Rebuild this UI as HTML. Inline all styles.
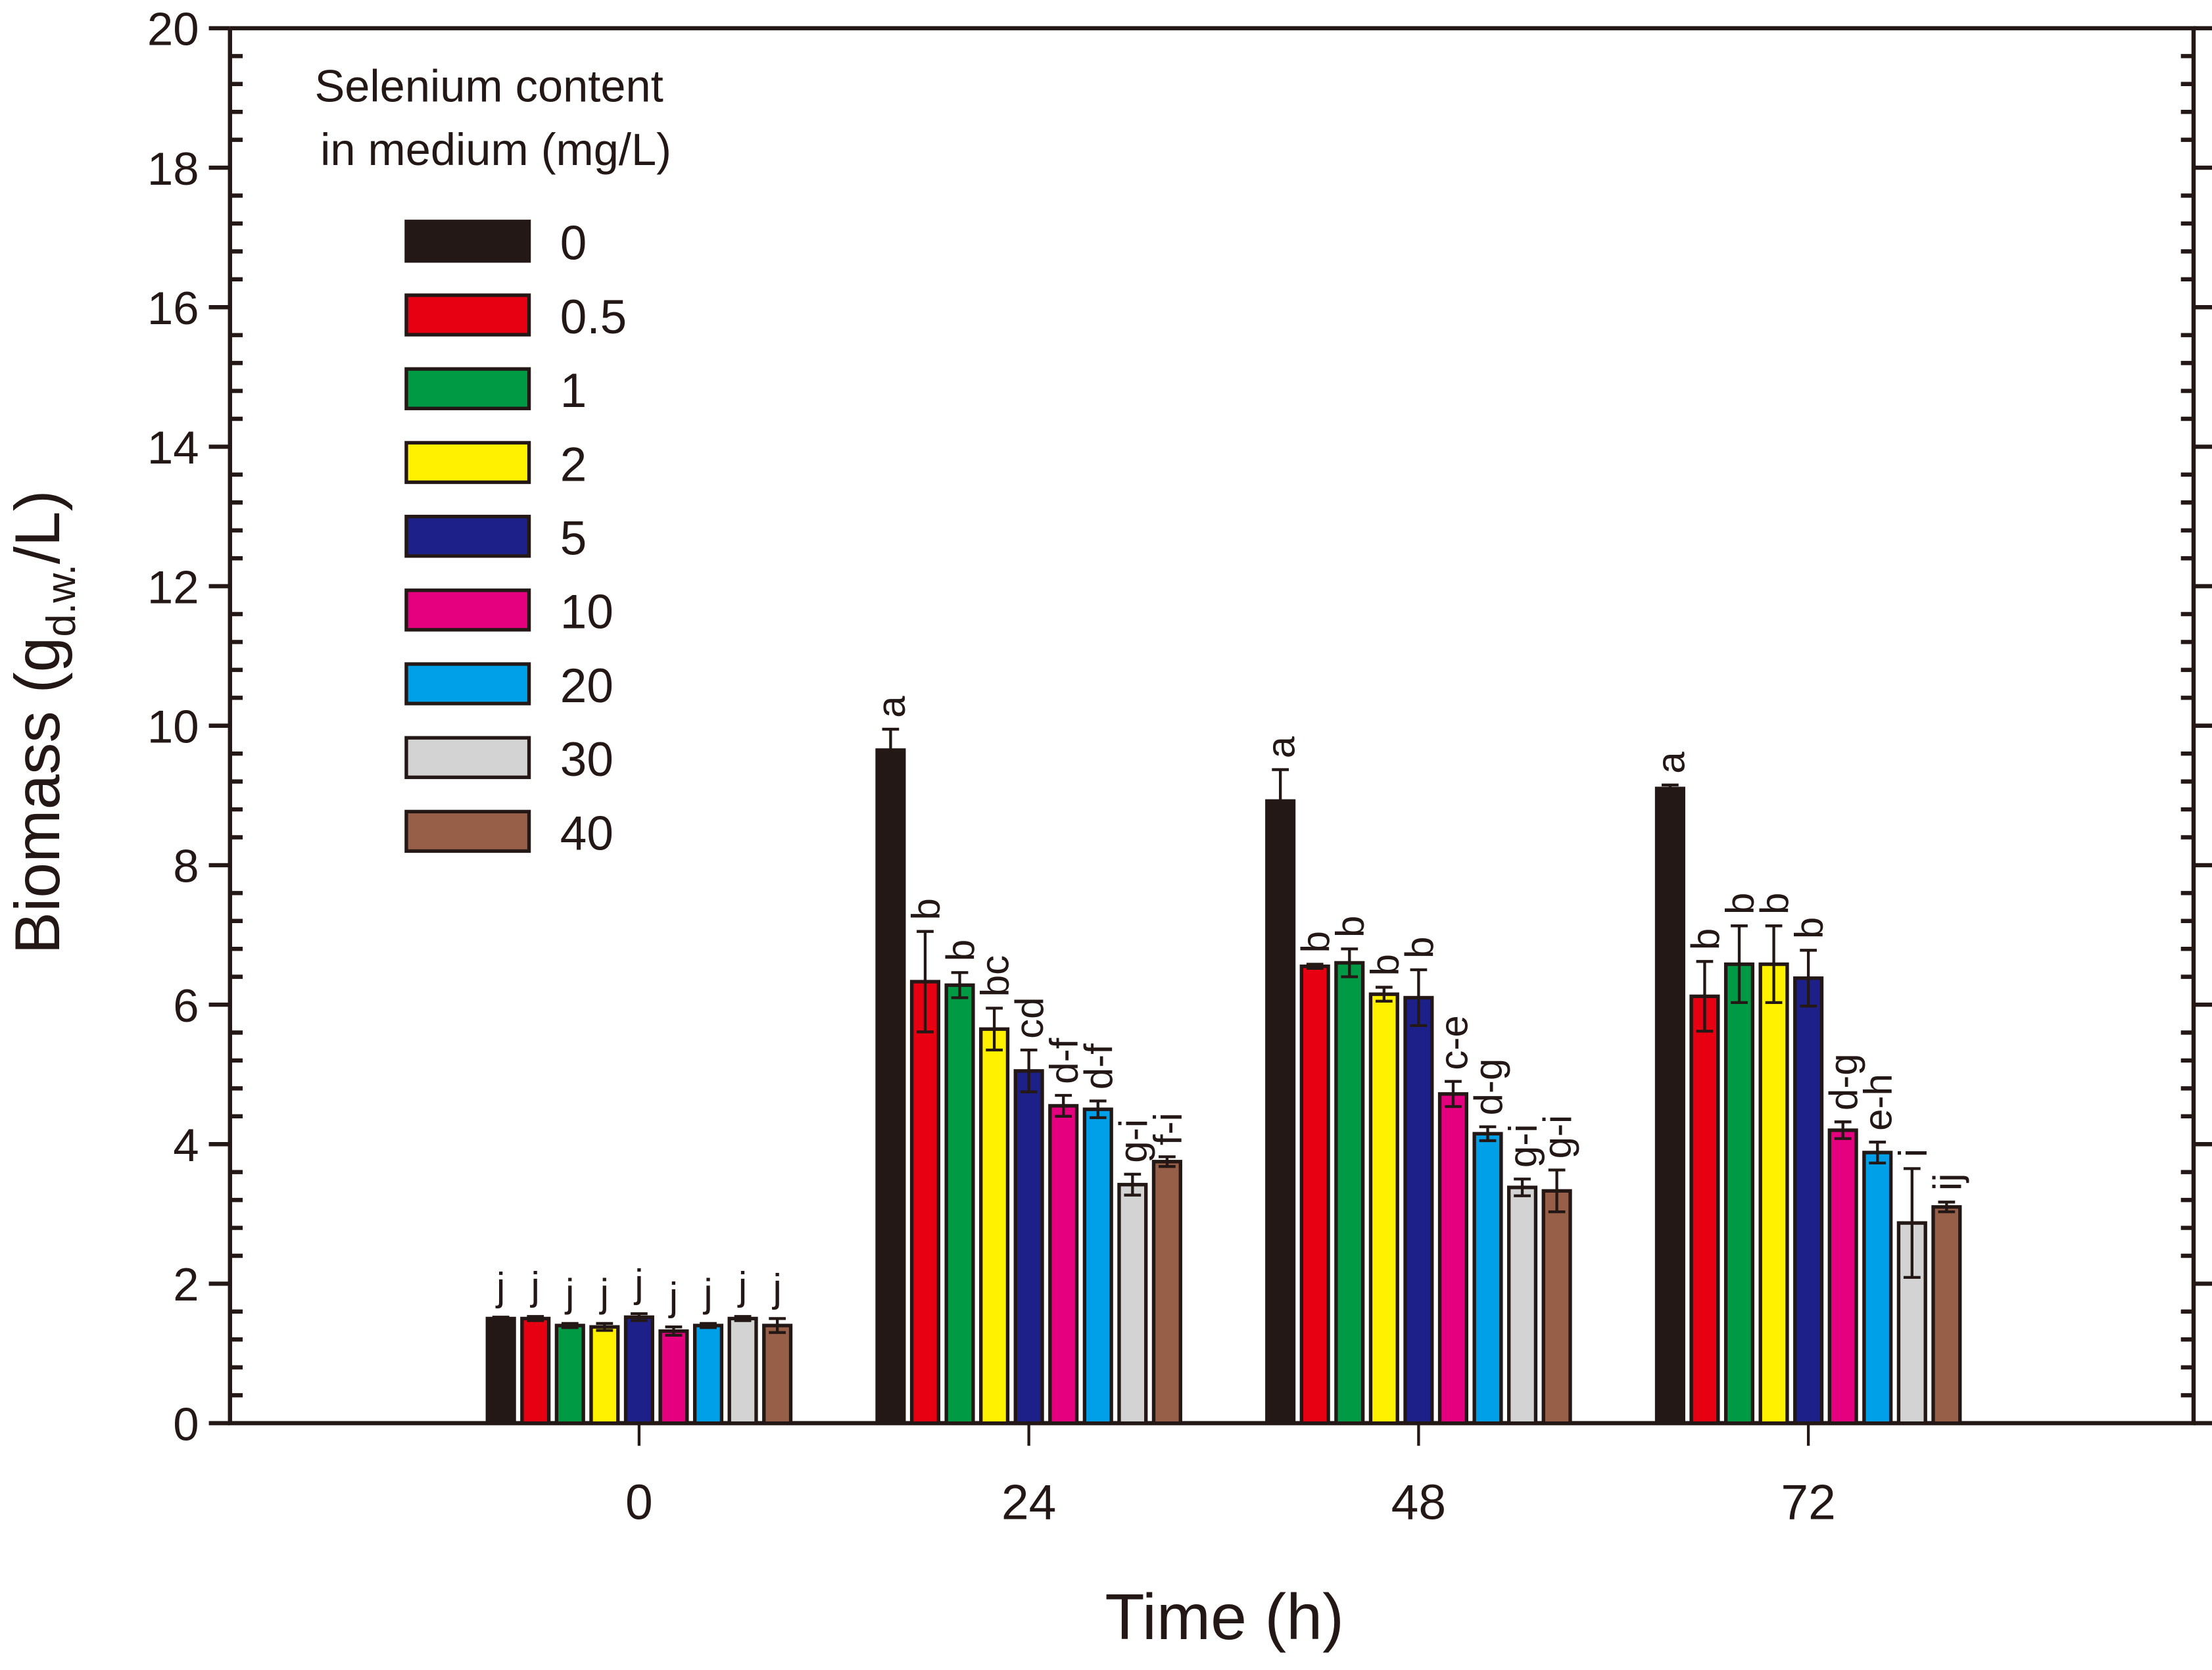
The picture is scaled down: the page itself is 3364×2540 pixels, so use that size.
<!DOCTYPE html>
<html><head><meta charset="utf-8"><style>
html,body{margin:0;padding:0;background:#fff}
svg{display:block}
text{font-family:"Liberation Sans",Arial,sans-serif;fill:#231815}
</style></head><body>
<svg id="chart" width="3364" height="2540" viewBox="0 0 1568 1184" xmlns="http://www.w3.org/2000/svg">
<g id="axes"></g>
<g id="bars"></g>
<g id="legend"></g>
<text transform="translate(42,512) rotate(-90)" text-anchor="middle" font-size="45">Biomass (g<tspan font-size="29" dy="11">d.w.</tspan><tspan dy="-11">/L)</tspan></text>
<text x="868" y="1162" text-anchor="middle" font-size="46">Time (h)</text>
</svg>
<script>
const timeLabels = ["0","24","48","72"];
const seriesNames = ["0","0.5","1","2","5","10","20","30","40"];
const seriesColors = ["#231815","#e60012","#009944","#fff100","#1d2088","#e4007f","#00a0e9","#d3d3d3","#985f48"];
const values = [
 [1.5,1.5,1.4,1.38,1.52,1.32,1.4,1.5,1.4],
 [9.65,6.33,6.28,5.65,5.05,4.55,4.5,3.42,3.75],
 [8.92,6.55,6.6,6.15,6.1,4.72,4.15,3.38,3.33],
 [9.1,6.12,6.58,6.58,6.38,4.2,3.88,2.87,3.1]
];
const errors = [
 [0.02,0.03,0.03,0.05,0.05,0.06,0.03,0.03,0.1],
 [0.3,0.72,0.18,0.3,0.3,0.15,0.12,0.15,0.07],
 [0.45,0.03,0.2,0.1,0.4,0.18,0.1,0.12,0.3],
 [0.05,0.5,0.55,0.55,0.4,0.12,0.15,0.78,0.07]
];
const letters = [
 ["j","j","j","j","j","j","j","j","j"],
 ["a","b","b","bc","cd","d-f","d-f","g-i","f-i"],
 ["a","b","b","b","b","c-e","d-g","g-i","g-i"],
 ["a","b","b","b","b","d-g","e-h","i","ij"]
];
const yTicks = [0,2,4,6,8,10,12,14,16,18,20];

const NS="http://www.w3.org/2000/svg";
const L=163,R=1555,T=20,B=1009;
const y = v => B - (v/20)*(B-T);
const xg = i => 453 + i*276.3;
const step = 24.5, bw = 19;
function mk(tag, attrs, parent){const e=document.createElementNS(NS,tag);for(const k in attrs)e.setAttribute(k,attrs[k]);parent.appendChild(e);return e;}
const axes=document.getElementById('axes'), bars=document.getElementById('bars'), leg=document.getElementById('legend');
const ink="#231815";

values.forEach((grp,gi)=>{
  grp.forEach((v,si)=>{
    const cx = xg(gi) + (si-4)*step;
    const r = mk('rect',{x:cx-bw/2,y:y(v),width:bw,height:B-y(v),fill:seriesColors[si],stroke:ink,'stroke-width':2.5},bars);
    
    
    const e=errors[gi][si];
    const eb = mk('path',{d:`M${cx} ${y(v+e)}V${y(v-e)}M${cx-6} ${y(v+e)}H${cx+6}M${cx-6} ${y(v-e)}H${cx+6}`,stroke:ink,'stroke-width':2,fill:'none'},bars);
    
    
    const t = mk('text',{'font-size':28},bars);
    if(gi===0){t.setAttribute('x',cx);t.setAttribute('y',y(v+e)-12);t.setAttribute('text-anchor','middle');}
    else{t.setAttribute('transform',`translate(${cx+10},${y(v+e)-8}) rotate(-90)`);}
    t.textContent=letters[gi][si];
    
    
  });
});

const fr=mk('path',{d:`M${L} ${T}V${B}H${R}V${T}H${L}`,stroke:ink,'stroke-width':3,fill:'none'},axes);


for(let v=0;v<=20.001;v+=0.4){
  const major=Math.abs(v/2-Math.round(v/2))<1e-6;
  const yy=y(v);
  if(major){
    mk('line',{x1:L-15,x2:L,y1:yy,y2:yy,stroke:ink,'stroke-width':3},axes);
    mk('line',{x1:R,x2:R+15,y1:yy,y2:yy,stroke:ink,'stroke-width':3},axes);
  }else{
    mk('line',{x1:L,x2:L+9,y1:yy,y2:yy,stroke:ink,'stroke-width':3},axes);
    mk('line',{x1:R-9,x2:R,y1:yy,y2:yy,stroke:ink,'stroke-width':3},axes);
  }
}
yTicks.forEach(v=>{
  const t=mk('text',{x:L-22,y:y(v)+12,'text-anchor':'end','font-size':33},axes);
  t.textContent=v;
  
  
});
timeLabels.forEach((lab,i)=>{
  mk('line',{x1:xg(i),x2:xg(i),y1:B,y2:B+16,stroke:ink,'stroke-width':2},axes);
  const t=mk('text',{x:xg(i),y:1077,'text-anchor':'middle','font-size':35},axes);
  t.textContent=lab;
  
  
});

const t1=mk('text',{x:223,y:72,'font-size':32},leg);t1.textContent="Selenium content";


const t2=mk('text',{x:227,y:117,'font-size':32},leg);t2.textContent="in medium (mg/L)";


seriesNames.forEach((n,i)=>{
  const yy=157+i*52.3;
  const g=mk('g',{},leg);
  
  
  mk('rect',{x:288,y:yy,width:87,height:28,fill:seriesColors[i],stroke:ink,'stroke-width':2.5},g);
  const t=mk('text',{x:397,y:yy+27,'font-size':34},g);t.textContent=n;
});
</script>
</body></html>
